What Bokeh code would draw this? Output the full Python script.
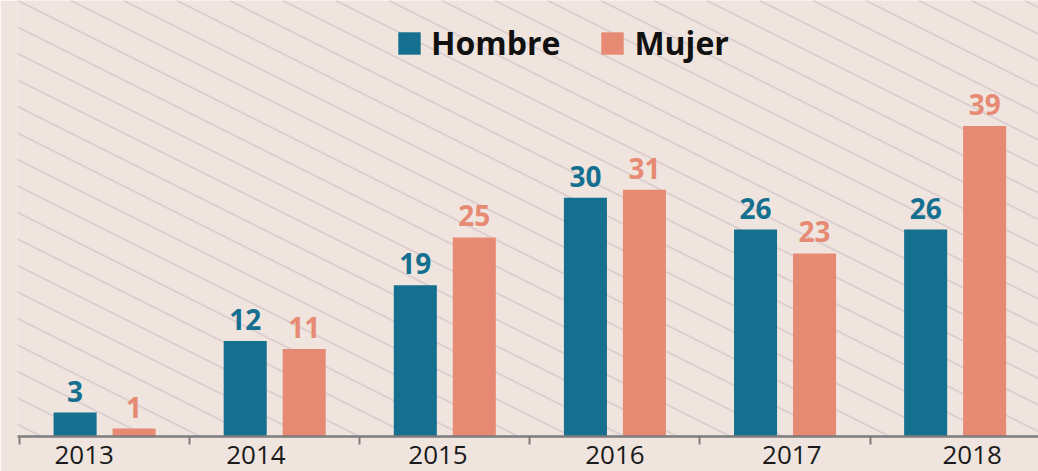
import numpy as np
from bokeh.plotting import figure
from bokeh.models import (ColumnDataSource, Range1d, FixedTicker, Legend,
                          LegendItem, Slope, LabelSet)
from bokeh.transform import dodge
from bokeh.core.properties import value
from bokeh.embed import file_html
from bokeh.resources import INLINE

# ---- data ----
years = ["2013", "2014", "2015", "2016", "2017", "2018"]
hombre = [3, 12, 19, 30, 26, 26]
mujer = [1, 11, 25, 31, 23, 39]

# ---- style ----
TEAL = "#15708f"
SALMON = "#e78a74"
BG = "#efe4de"
STRIPE = "#dccdd0"
AXIS = "#7d7d7d"
FONT = "Open Sans"
label_shift = [-0.12, -0.11, -0.04, 0.0, 0.04, 0.10]
OFF = 0.1734
BAR_W = 0.253

x = np.arange(len(years)) + 0.5
src = ColumnDataSource(dict(
    x=x, hombre=hombre, mujer=mujer,
    hl=[str(v) for v in hombre], ml=[str(v) for v in mujer],
))
label_pos = [float(round(v + s, 3)) for v, s in zip(x, label_shift)]

p = figure(width=1038, height=471, output_backend="svg", toolbar_location=None,
           x_range=Range1d(-0.012, 5.99), y_range=Range1d(0, 54.77),
           min_border_left=17, min_border_right=0, min_border_top=0,
           min_border_bottom=35)
p.background_fill_color = BG
p.border_fill_color = BG
p.outline_line_color = None
p.grid.visible = False
p.yaxis.visible = False

# decorative diagonal stripes
for k in range(-14, 24):
    px = 5 + 53 * k
    x0 = (px - 19) / 170.1
    y0 = (436 - 100) / 7.96
    g = -0.5 * 170.1 / 7.96
    p.add_layout(Slope(gradient=g, y_intercept=y0 - g * x0,
                       line_color=STRIPE, line_width=1.8, level="underlay"))

r1 = p.vbar(x=dodge("x", -OFF, range=p.x_range), top="hombre", width=BAR_W,
            source=src, fill_color=TEAL, line_color=None)
r2 = p.vbar(x=dodge("x", OFF, range=p.x_range), top="mujer", width=BAR_W,
            source=src, fill_color=SALMON, line_color=None)

p.add_layout(LabelSet(x=dodge("x", -OFF, range=p.x_range), y="hombre", text="hl",
                      source=src, text_align="center", text_baseline="alphabetic",
                      y_offset=11, text_font=value(FONT), text_font_style="bold",
                      text_font_size="28px", text_color=TEAL))
p.add_layout(LabelSet(x=dodge("x", OFF, range=p.x_range), y="mujer", text="ml",
                      source=src, text_align="center", text_baseline="alphabetic",
                      y_offset=11, text_font=value(FONT), text_font_style="bold",
                      text_font_size="28px", text_color=SALMON))

ax = p.xaxis[0]
ax.ticker = FixedTicker(ticks=label_pos,
                        minor_ticks=list(np.arange(len(years) + 1)))
ax.major_label_overrides = {v: t for v, t in zip(label_pos, years)}
ax.major_label_text_font = FONT
ax.major_label_text_font_size = "26px"
ax.major_label_text_color = "#1a1a1a"
ax.major_label_standoff = 1
ax.major_tick_out = 0
ax.major_tick_in = 0
ax.major_tick_line_color = None
ax.minor_tick_out = 8
ax.minor_tick_in = 0
ax.minor_tick_line_color = AXIS
ax.minor_tick_line_width = 2
ax.axis_line_color = AXIS
ax.axis_line_width = 2.5

legend = Legend(items=[LegendItem(label="Hombre", renderers=[r1]),
                       LegendItem(label="Mujer", renderers=[r2])],
                location=(378, 372), orientation="horizontal",
                glyph_width=28, glyph_height=28, label_standoff=8, spacing=38,
                padding=0, margin=0, border_line_color=None,
                background_fill_alpha=0,
                label_text_font=FONT, label_text_font_style="bold",
                label_text_font_size="32px", label_text_color="#111111")
p.add_layout(legend)

open("out.html", "w").write(file_html(p, INLINE))
